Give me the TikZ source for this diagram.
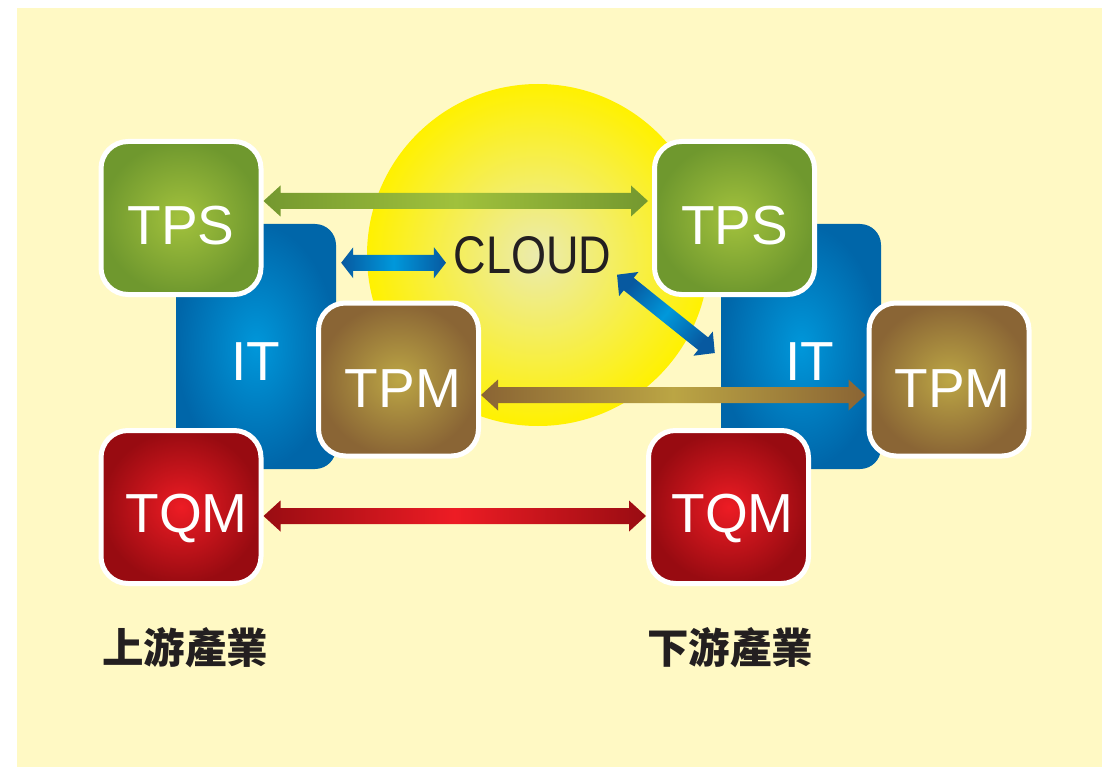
\documentclass[tikz,border=0pt]{standalone}
\usepackage{fontspec}
\setmainfont{Liberation Sans}
\newfontfamily\cjkfont{Noto Sans CJK TC}
\newfontfamily\cloudfont{Liberation Sans}[FakeStretch=0.85]
\usetikzlibrary{calc}

% palette
\definecolor{paper}{HTML}{FFF9C4}
\definecolor{sunedge}{HTML}{FFF100}
\definecolor{suncore}{HTML}{EBEBAE}
\definecolor{tpsin}{HTML}{A3C23D}
\definecolor{tpsout}{HTML}{6F982E}
\definecolor{itin}{HTML}{0097DA}
\definecolor{itout}{HTML}{0066A9}
\definecolor{tpmin}{HTML}{BCA645}
\definecolor{tpmout}{HTML}{8A6535}
\definecolor{tqmin}{HTML}{ED1C24}
\definecolor{tqmout}{HTML}{980B11}
\definecolor{ink}{HTML}{231F20}
\definecolor{grnend}{HTML}{74982F}
\definecolor{grnmid}{HTML}{A0C13C}
\definecolor{bluend}{HTML}{0759A0}
\definecolor{blumid}{HTML}{0098DB}
\definecolor{brnend}{HTML}{8A6434}
\definecolor{brnmid}{HTML}{BBA544}
\definecolor{redend}{HTML}{990C12}
\definecolor{redmid}{HTML}{ED1C24}

\newcommand\bahl{17pt}

\tikzset{
  unitbox/.style={rectangle, rounded corners=27pt, draw=white, line width=5pt,
    minimum width=160pt, minimum height=153pt, inner sep=0pt, text=white,
    font=\fontsize{55}{60}\selectfont, text depth=0pt},
  tpsbox/.style={unitbox, inner color=tpsin, outer color=tpsout, text height=53pt},
  tpmbox/.style={unitbox, inner color=tpmin, outer color=tpmout, text height=55pt},
  tqmbox/.style={unitbox, inner color=tqmin, outer color=tqmout, text height=50pt},
  itbox/.style={rectangle, rounded corners=21pt, minimum width=160pt, minimum height=245pt,
    inner sep=0pt, inner color=itin, outer color=itout, text=white,
    font=\fontsize{55}{60}\selectfont, text height=67pt, text depth=0pt},
  cjklabel/.style={inner sep=0pt, text=ink, font=\cjkfont\bfseries\fontsize{41.5}{46}\selectfont},
  tiplen/.code={\def\bahl{#1}},
  blockarrow/.style={to path={
    -- ($(\tikztostart)!\bahl!(\tikztotarget)!15.5pt!90:(\tikztotarget)$)
    -- ($(\tikztostart)!\bahl!(\tikztotarget)!8pt!90:(\tikztotarget)$)
    -- ($(\tikztotarget)!\bahl!(\tikztostart)!8pt!-90:(\tikztostart)$)
    -- ($(\tikztotarget)!\bahl!(\tikztostart)!15.5pt!-90:(\tikztostart)$)
    -- (\tikztotarget)
    -- ($(\tikztotarget)!\bahl!(\tikztostart)!15.5pt!90:(\tikztostart)$)
    -- ($(\tikztotarget)!\bahl!(\tikztostart)!8pt!90:(\tikztostart)$)
    -- ($(\tikztostart)!\bahl!(\tikztotarget)!8pt!-90:(\tikztotarget)$)
    -- ($(\tikztostart)!\bahl!(\tikztotarget)!15.5pt!-90:(\tikztotarget)$)
    -- cycle}},
}

\begin{document}
\begin{tikzpicture}[x=1pt, y=-1pt]
  % sheet
  \fill[white] (0,0) rectangle (1102,767);
  \fill[paper] (17,8) rectangle (1102,767);
  \useasboundingbox (0,0) rectangle (1102,767);

  % glowing cloud disc
  \node[circle, minimum size=342pt, inner sep=0pt, inner color=suncore, outer color=sunedge] (sun) at (538,255) {};

  % IT columns
  \node[itbox] (itL) at (256,346.5) {IT};
  \node[itbox] (itR) at (801,346.5) {\hspace*{17pt}IT};

  % upstream group
  \node[tpsbox] (tpsL) at (181,218) {TPS};
  \node[tpmbox] (tpmL) at (398.5,379.5) {\hspace*{9pt}TPM};
  \node[tqmbox] (tqmL) at (181,507) {\hspace*{11pt}TQM};

  % downstream group
  \node[tpsbox] (tpsR) at (734.5,218) {TPS};
  \node[tpmbox] (tpmR) at (949,379.5) {\hspace*{7pt}TPM};
  \node[tqmbox] (tqmR) at (728.5,507) {\hspace*{8pt}TQM};

  % cloud label
  \node[inner sep=0pt, anchor=base, text=ink, font=\cloudfont\fontsize{53}{58}\selectfont] (cloud) at (532.5,273) {CLOUD};

  % links between the two groups
  \shade[blockarrow, left color=grnend, right color=grnend, middle color=grnmid]
    ([yshift=17pt]tpsL.east) to ([xshift=-4pt,yshift=17pt]tpsR.west);
  \shade[blockarrow, left color=brnend, right color=brnend, middle color=brnmid]
    ([yshift=-15.5pt]tpmL.east) to ([xshift=-1pt,yshift=-15.5pt]tpmR.west);
  \shade[blockarrow, left color=redend, right color=redend, middle color=redmid]
    ([yshift=-9pt]tqmL.east) to ([yshift=-9pt]tqmR.west);

  % links to the cloud
  \shade[blockarrow, tiplen=12pt, left color=bluend, right color=bluend, middle color=blumid]
    ($(itL.east |- cloud.west)+(5,8)$) to ($(cloud.west)+(-7.5,8)$);
  \shade[blockarrow, tiplen=15pt, left color=bluend, right color=bluend, middle color=blumid, shading angle=51]
    ($(cloud.south east)+(5.5,1)$) to ($(itR.west)+(-6,6.5)$);

  % industry captions
  \node[cjklabel, anchor=west] (up) at (102,648) {上游產業};
  \node[cjklabel, anchor=west] (down) at (647,648) {下游產業};
\end{tikzpicture}
\end{document}
